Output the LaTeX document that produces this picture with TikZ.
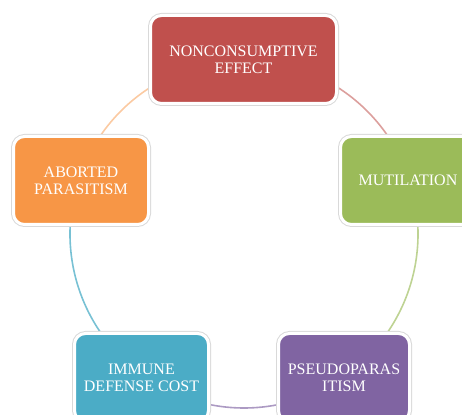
\documentclass[tikz,border=0pt]{standalone}
\usepackage{fontspec}
\setmainfont{Liberation Serif}
\usetikzlibrary{calc}
\definecolor{cred}{HTML}{C0504D}
\definecolor{cgreen}{HTML}{9BBB59}
\definecolor{cpurple}{HTML}{8064A2}
\definecolor{cblue}{HTML}{4BACC6}
\definecolor{corange}{HTML}{F79646}
\begin{document}
\begin{tikzpicture}[x=1pt,y=1pt,
  box/.style={rounded corners=11pt, preaction={draw=gray!30, line width=5pt},
    draw=white, line width=3pt, minimum height=88pt, inner sep=2pt,
    text=white, align=center, font=\fontsize{16}{17}\selectfont},
  arcline/.style={line width=1.6pt}]
\useasboundingbox (0,0) rectangle (462,414);
\clip (0,0) rectangle (462,414);
\coordinate (c) at (244,180);
% connecting arcs
\draw[arcline, cred!55] ($(c)+(90:174)$) coordinate (a1) arc[start angle=90, end angle=18, radius=174];
\draw[arcline, cgreen!65] ($(c)+(18:174)$) coordinate (a2) arc[start angle=18, end angle=-54, radius=174];
\draw[arcline, cpurple!65] ($(c)+(-54:174)$) coordinate (a3) arc[start angle=-54, end angle=-126, radius=174];
\draw[arcline, cblue!75] ($(c)+(-126:174)$) coordinate (a4) arc[start angle=-126, end angle=-198, radius=174];
\draw[arcline, corange!50] ($(c)+(162:174)$) coordinate (a5) arc[start angle=162, end angle=90, radius=174];
% boxes
\node[box, fill=cred, minimum width=186pt] (top) at (243.5,354.5) {NONCONSUMPTIVE\\EFFECT};
\node[box, fill=cgreen, minimum width=135pt] (right) at (408,233.5) {MUTILATION};
\node[box, fill=corange, minimum width=135pt] (left) at (81,233.5) {ABORTED\\PARASITISM};
\node[box, fill=cblue, minimum width=134pt] (bl) at (141.5,36.5) {IMMUNE\\DEFENSE COST};
\node[box, fill=cpurple, minimum width=131pt] (br) at (344,36.5) {PSEUDOPARAS\\ITISM};
\end{tikzpicture}
\end{document}
